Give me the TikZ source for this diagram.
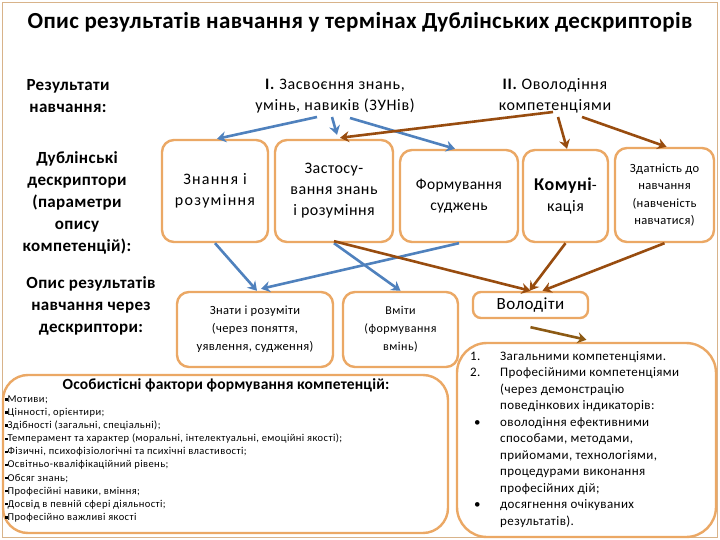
\documentclass[tikz,border=0pt]{standalone}
\usepackage{fontspec}
\setmainfont{Carlito}
\usetikzlibrary{arrows.meta}
\definecolor{boxc}{HTML}{EBA865}
\definecolor{bluea}{HTML}{4F81BD}
\definecolor{browna}{HTML}{984C0F}
\definecolor{olivea}{HTML}{8C5A14}
\definecolor{framec}{HTML}{D8B38A}
\newcommand{\sqb}{\rule[1.8pt]{2.4pt}{2.4pt}}
\begin{document}
\begin{tikzpicture}[x=1pt,y=-1pt,
  box/.style={draw=boxc, line width=2.4pt, fill=white, rounded corners=12pt, align=center, inner sep=1pt},
  tip/.style={-{Stealth[length=9pt,width=11pt,inset=3pt]}},
  ba/.style={draw=bluea, line width=2.6pt, tip},
  br/.style={draw=browna, line width=2.6pt, tip},
  lbl/.style={align=center, font=\bfseries\fontsize{17}{22}\selectfont\addfontfeature{LetterSpace=2}},
  hdr/.style={align=center, font=\fontsize{16}{21.5}\selectfont\addfontfeature{LetterSpace=4}}
]
\useasboundingbox (0,0) rectangle (720,540);
\draw[framec, line width=1.5pt, fill=white] (2.5,2.5) rectangle (717.5,537.5);

% title
\node[font=\bfseries\fontsize{23}{26}\selectfont\addfontfeature{LetterSpace=1.5}] (title) at (360,22) {Опис результатів навчання у термінах Дублінських дескрипторів};

% left labels
\node[lbl] (lr) at (68,96) {Результати\\навчання:};
\node[lbl] (ld) at (77,203) {Дублінські\\дескриптори\\(параметри\\опису\\компетенцій):};
\node[lbl] (lo) at (91,306) {Опис результатів\\навчання через\\дескриптори:};

% headers
\node[hdr] (h1) at (335,96) {\textbf{I.} Засвоєння знань,\\умінь, навиків (ЗУНів)};
\node[hdr] (h2) at (555,96) {\textbf{II.} Оволодіння\\компетенціями};

% row 1 boxes
\node[box, minimum width=106pt, minimum height=102pt, font=\fontsize{16}{21}\selectfont\addfontfeature{LetterSpace=8}] (b1) at (215,191) {Знання і\\розуміння};
\node[box, minimum width=118pt, minimum height=102pt, font=\fontsize{16}{21}\selectfont\addfontfeature{LetterSpace=3}] (b2) at (334,191) {Застосу-\\вання знань\\і розуміння};
\node[box, minimum width=118pt, minimum height=92pt, font=\fontsize{15.5}{21}\selectfont\addfontfeature{LetterSpace=2}] (b3) at (459,196) {Формування\\суджень};
\node[box, minimum width=85pt, minimum height=92pt, font=\fontsize{16}{21}\selectfont\addfontfeature{LetterSpace=3}] (b4) at (565.5,196) {{\bfseries\fontsize{18}{21}\selectfont Комуні}-\\кація};
\node[box, minimum width=99pt, minimum height=94pt, font=\fontsize{12.5}{17.5}\selectfont\addfontfeature{LetterSpace=3}] (b5) at (664.5,195) {Здатність до\\навчання\\(навченість\\навчатися)};

% row 2 boxes
\node[box, minimum width=156pt, minimum height=75pt, font=\fontsize{12.5}{18}\selectfont\addfontfeature{LetterSpace=3}] (b6) at (255,329.5) {Знати і розуміти\\(через поняття,\\уявлення, судження)};
\node[box, minimum width=115pt, minimum height=75pt, font=\fontsize{12}{18}\selectfont\addfontfeature{LetterSpace=4}] (b7) at (400.5,329.5) {Вміти\\(формування\\вмінь)};
\node[box, minimum width=115pt, minimum height=26pt, rounded corners=8pt, font=\fontsize{17}{20}\selectfont\addfontfeature{LetterSpace=3}] (b8) at (530.5,305) {Володіти};

% big boxes
\node[box, minimum width=259pt, minimum height=194pt, rounded corners=30pt] (b9) at (586.5,440) {};
\node[box, minimum width=445pt, minimum height=158pt, rounded corners=25pt] (b10) at (225.5,454) {};

% box 9 list
\node[anchor=north west, inner sep=0pt, align=left, font=\fontsize{13}{16.5}\selectfont\addfontfeature{LetterSpace=3}] (l9) at (470,348.5) {%
\begin{tabular}{@{}p{30pt}@{}l@{}}
1. & Загальними компетенціями.\\
2. & Професійними компетенціями\\
 & (через демонстрацію\\
 & поведінкових індикаторів:\\
\hspace*{4pt}\textbullet & оволодіння ефективними\\
 & способами, методами,\\
 & прийомами, технологіями,\\
 & процедурами виконання\\
 & професійних дій;\\
\hspace*{4pt}\textbullet & досягнення очікуваних\\
 & результатів).
\end{tabular}};

% box 10 text
\node[font=\bfseries\fontsize{15.5}{18}\selectfont\addfontfeature{LetterSpace=1}] (t10) at (226,385) {Особистісні фактори формування компетенцій:};
\node[anchor=north west, inner sep=0pt, align=left, font=\fontsize{10.5}{13.1}\selectfont\addfontfeature{LetterSpace=4}] (l10) at (5,395.5) {%
\sqb Мотиви;\\
\sqb Цінності, орієнтири;\\
\sqb Здібності (загальні, спеціальні);\\
\sqb Темперамент та характер (моральні, інтелектуальні, емоційні якості);\\
\sqb Фізичні, психофізіологічні та психічні властивості;\\
\sqb Освітньо-кваліфікаційний рівень;\\
\sqb Обсяг знань;\\
\sqb Професійні навики, вміння;\\
\sqb Досвід в певній сфері діяльності;\\
\sqb Професійно важливі якості};

% start coordinates under headers
\coordinate (s1) at (317,117);
\coordinate (s2) at (332,117);
\coordinate (s3) at (350,118);
\coordinate (s4) at (553,112);
\coordinate (s5) at (558,117);
\coordinate (s6) at (582,117);

% header arrows
\draw[ba] (s1) -- ([xshift=2pt]b1.north);
\draw[ba] (s2) -- ([xshift=3pt,yshift=4pt]b2.north);
\draw[ba] (s3) -- ([xshift=-4pt]b3.north);
\draw[br] (s4) -- ([xshift=6pt,yshift=1pt]b2.north);
\draw[br] (s5) -- ([xshift=1.5pt]b4.north);
\draw[br] (s6) -- ([xshift=2pt]b5.north);

% row1 -> row2
\draw[ba] (b1.south) -- ([xshift=2pt]b6.north);
\draw[ba] (b2.south) -- (b7.north);
\draw[ba] (b3.south) -- ([xshift=6pt,yshift=2pt]b6.north);
\draw[br] ([yshift=2pt]b2.south) -- (b8.north);
\draw[br] (b4.south) -- ([xshift=-1pt]b8.north);
\draw[br] (b5.south) -- ([xshift=12pt]b8.north);
\draw[draw=olivea, line width=2.6pt, tip] ([yshift=-8pt]b8.south) -- ([yshift=2pt]b9.north);
\end{tikzpicture}
\end{document}
